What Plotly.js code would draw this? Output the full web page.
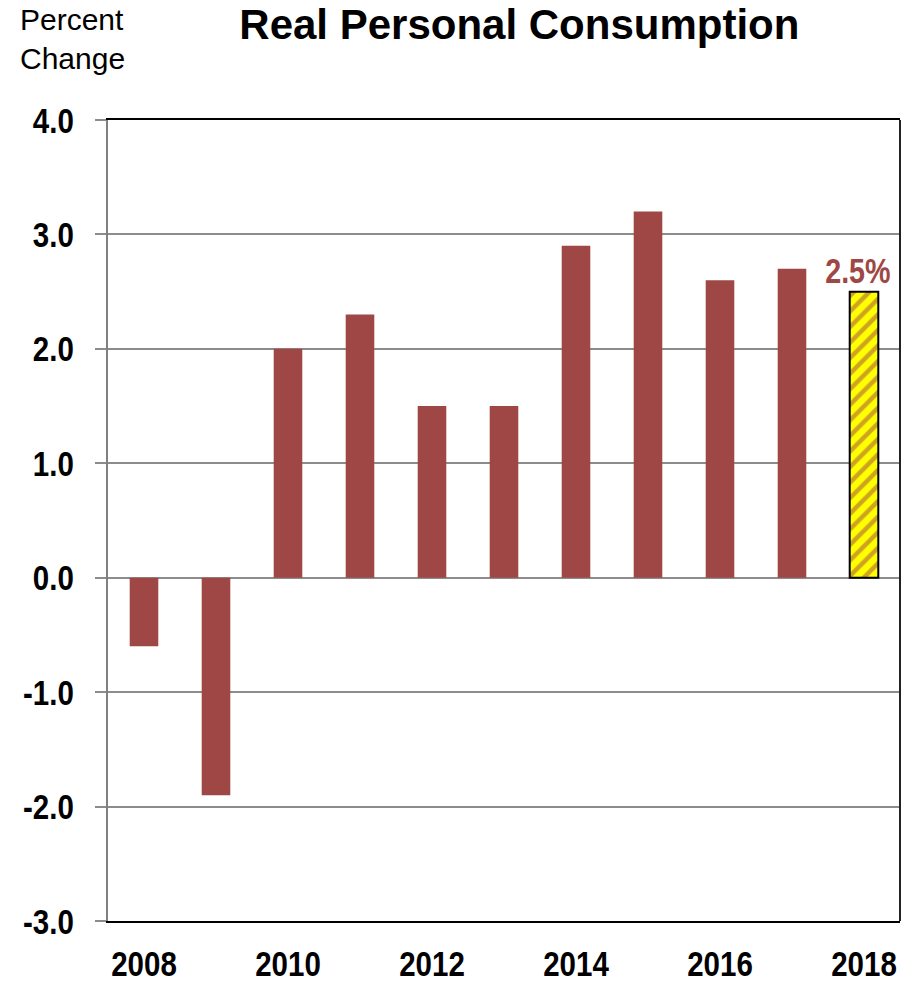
<!DOCTYPE html>
<html><head><meta charset="utf-8">
<script src="https://cdn.plot.ly/plotly-3.0.1.min.js"></script>
<style>html,body{margin:0;padding:0;background:#fff}#chart{width:916px;height:984px}</style>
</head><body><div id="chart"></div>
<script>
const years = [2008, 2009, 2010, 2011, 2012, 2013, 2014, 2015, 2016, 2017];
const values = [-0.6, -1.9, 2.0, 2.3, 1.5, 1.5, 2.9, 3.2, 2.6, 2.7];
const forecastYear = [2018];
const forecastValue = [2.5];
const forecastLabel = '2.5%';
const xTickVals = [2008, 2010, 2012, 2014, 2016, 2018];
const yTickVals = [-3, -2, -1, 0, 1, 2, 3, 4];
const yTickText = ['-3.0','-2.0','-1.0','0.0','1.0','2.0','3.0','4.0'];

const brown = '#9E4744';
const sans = '"Liberation Sans", Arial, sans-serif';

const traces = [
  {type:'bar', x: years, y: values, marker:{color: brown}, width:0.397},
  {type:'bar', x: forecastYear, y: forecastValue, width:0.397,
   marker:{color:'#FFFF00', line:{color:'#000', width:2},
     pattern:{shape:'/', fgcolor: brown, bgcolor:'#FFFF00', size:11, solidity:0.4, fillmode:'overlay'}}}
];

const layout = {
  width:916, height:984,
  margin:{l:108, r:16, t:120, b:63},
  showlegend:false,
  barmode:'overlay',
  paper_bgcolor:'#fff', plot_bgcolor:'#fff',
  title:{text:'<b>Real Personal Consumption</b>', x:0.567, xanchor:'center', y:0.9756, yanchor:'middle',
    font:{family:sans, size:42, color:'#000'}},
  xaxis:{range:[2007.5, 2018.5], tickvals:xTickVals, ticktext:xTickVals.map(v=>'<b>'+v+'</b>'),
    ticks:'', showgrid:false, zeroline:false, tickangle:0, ticklabelstandoff:10,
    showline:true, linecolor:'#000', linewidth:2, mirror:true,
    tickfont:{family:sans, size:36, color:'#000'}},
  yaxis:{range:[-3,4], tickvals:yTickVals, ticktext:yTickText.map(t=>'<b>'+t+'</b>'),
    showgrid:true, gridcolor:'#8c8c8c', gridwidth:1.5, zeroline:false,
    showline:true, linecolor:'#808080', linewidth:2, mirror:false,
    ticks:'outside', ticklen:11, tickcolor:'#8c8c8c', tickwidth:1.5, ticklabelstandoff:14,
    tickfont:{family:sans, size:36, color:'#000'}},
  shapes:[{type:'line', xref:'paper', yref:'paper', x0:1, x1:1, y0:0, y1:1, line:{color:'#222', width:2}}],
  annotations:[
    {x: forecastYear[0], y: forecastValue[0], text:'<b>'+forecastLabel+'</b>', showarrow:false,
     yanchor:'bottom', yshift:0, xshift:-6, font:{family:sans, size:35, color: brown}},
    {xref:'paper', yref:'paper', x:-0.1136, y:1.149, xanchor:'left', yanchor:'top', align:'left',
     text:'Percent<br>Change', showarrow:false,
     font:{family:sans, size:30, color:'#000'}}
  ]
};

function condense(nodes, sx) {
  nodes.forEach(t => {
    const bb = t.getBBox();
    const anchor = t.getAttribute('text-anchor') || 'start';
    const ox = anchor === 'end' ? bb.x + bb.width : (anchor === 'middle' ? bb.x + bb.width / 2 : bb.x);
    const tr = t.getAttribute('transform') || '';
    t.setAttribute('transform', tr + ' translate(' + ox + ',0) scale(' + sx + ',1) translate(' + (-ox) + ',0)');
  });
}

Plotly.newPlot('chart', traces, layout, {displayModeBar:false}).then(gd => {
  condense(gd.querySelectorAll('.xtick text, .ytick text'), 0.82);
  const ann = gd.querySelectorAll('.annotation-text');
  condense([ann[0]], 0.82);
});
</script></body></html>
